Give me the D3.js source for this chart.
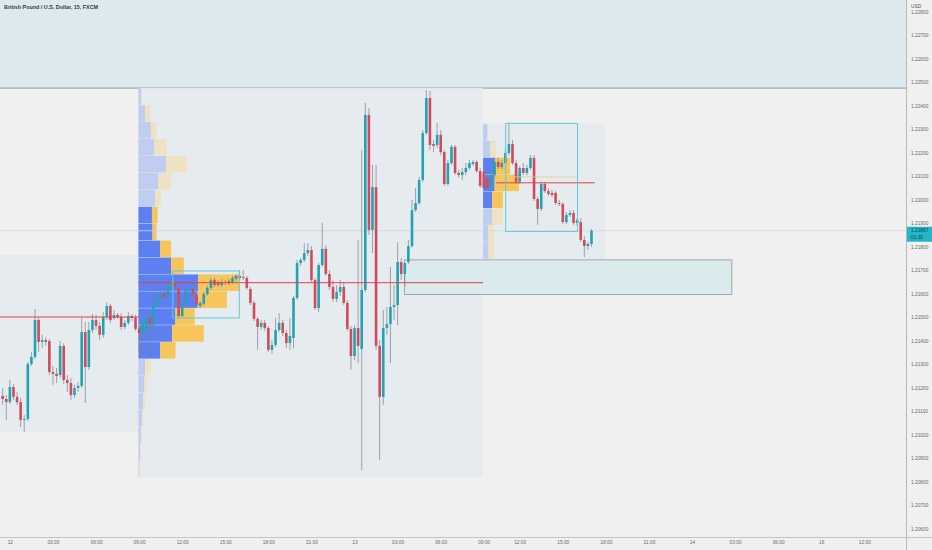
<!DOCTYPE html>
<html><head><meta charset="utf-8">
<script src="https://cdn.jsdelivr.net/npm/d3@7"></script>
<style>body{margin:0;background:#f0f0f0}svg{display:block}</style>
</head><body>
<svg id="c" width="932" height="550"></svg>
<script>
// ---- DATA ----
const title = "British Pound / U.S. Dollar, 15, FXCM";
const currency = "USD";
const opens = [1.21164,1.21151,1.21138,1.21202,1.21160,1.21138,1.21062,1.21066,1.21300,1.21330,
1.21487,1.21394,1.21402,1.21398,1.21266,1.21258,1.21253,1.21377,1.21232,1.21219,
1.21168,1.21198,1.21207,1.21436,1.21287,1.21445,1.21487,1.21462,1.21424,1.21500,
1.21547,1.21496,1.21509,1.21500,1.21458,1.21475,1.21504,1.21496,1.21449,1.21432,
1.21441,1.21496,1.21466,1.21551,1.21585,1.21602,1.21585,1.21632,1.21645,1.21624,
1.21504,1.21560,1.21611,1.21619,1.21594,1.21547,1.21556,1.21598,1.21624,1.21657,
1.21645,1.21636,1.21649,1.21653,1.21649,1.21662,1.21675,1.21670,1.21666,1.21619,
1.21560,1.21492,1.21458,1.21475,1.21453,1.21360,1.21381,1.21445,1.21475,1.21432,
1.21389,1.21411,1.21581,1.21730,1.21743,1.21772,1.21785,1.21657,1.21538,1.21721,
1.21790,1.21683,1.21628,1.21577,1.21607,1.21628,1.21560,1.21449,1.21334,1.21453,
1.21364,1.21615,1.22360,1.21870,1.22053,1.21377,1.21160,1.21453,1.21470,1.21543,
1.21551,1.21734,1.21683,1.21734,1.21802,1.21955,1.21985,1.22083,1.22283,1.22432,
1.22236,1.22232,1.22275,1.22202,1.22066,1.22155,1.22224,1.22113,1.22104,1.22117,
1.22134,1.22151,1.22160,1.22121,1.22117,1.22092,1.22049,1.22104,1.22160,1.22138,
1.22155,1.22198,1.22236,1.22155,1.22075,1.22134,1.22113,1.22134,1.22177,1.22002,
1.21960,1.22066,1.22036,1.22028,1.22028,1.21985,1.21981,1.21904,1.21934,1.21943,
1.21900,1.21904,1.21828,1.21802,1.21811];
const highs = [1.21198,1.21168,1.21232,1.21215,1.21181,1.21156,1.21083,1.21309,1.21351,1.21534,
1.21496,1.21424,1.21415,1.21407,1.21292,1.21283,1.21398,1.21389,1.21253,1.21241,
1.21211,1.21224,1.21496,1.21479,1.21479,1.21513,1.21509,1.21479,1.21521,1.21564,
1.21556,1.21530,1.21517,1.21517,1.21487,1.21521,1.21513,1.21509,1.21462,1.21496,
1.21509,1.21513,1.21572,1.21594,1.21615,1.21615,1.21641,1.21662,1.21657,1.21632,
1.21572,1.21624,1.21628,1.21628,1.21602,1.21568,1.21607,1.21632,1.21666,1.21666,
1.21657,1.21662,1.21657,1.21662,1.21675,1.21683,1.21700,1.21700,1.21675,1.21628,
1.21568,1.21500,1.21487,1.21487,1.21462,1.21402,1.21496,1.21517,1.21487,1.21445,
1.21496,1.21590,1.21743,1.21751,1.21815,1.21815,1.21802,1.21666,1.21730,1.21900,
1.21806,1.21700,1.21657,1.21636,1.21657,1.21649,1.21572,1.21462,1.21466,1.21828,
1.22211,1.22411,1.22389,1.22147,1.22147,1.21402,1.21530,1.21543,1.21713,1.21636,
1.21819,1.21751,1.21700,1.21828,1.21998,1.22049,1.22096,1.22296,1.22466,1.22462,
1.22253,1.22326,1.22296,1.22211,1.22168,1.22232,1.22232,1.22126,1.22134,1.22155,
1.22168,1.22168,1.22168,1.22134,1.22147,1.22117,1.22113,1.22177,1.22177,1.22168,
1.22219,1.22326,1.22253,1.22168,1.22143,1.22155,1.22147,1.22189,1.22189,1.22011,
1.22075,1.22075,1.22049,1.22041,1.22036,1.21998,1.21989,1.21947,1.21955,1.21955,
1.21921,1.21921,1.21845,1.21819,1.21875];
const lows = [1.21126,1.21062,1.21130,1.21147,1.21126,1.21032,1.21011,1.21058,1.21292,1.21321,
1.21351,1.21368,1.21377,1.21253,1.21211,1.21219,1.21241,1.21215,1.21181,1.21147,
1.21156,1.21181,1.21198,1.21134,1.21275,1.21432,1.21445,1.21402,1.21411,1.21487,
1.21475,1.21487,1.21492,1.21445,1.21449,1.21466,1.21483,1.21441,1.21360,1.21330,
1.21424,1.21330,1.21453,1.21543,1.21577,1.21577,1.21577,1.21624,1.21619,1.21496,
1.21496,1.21551,1.21602,1.21585,1.21543,1.21538,1.21547,1.21590,1.21615,1.21628,
1.21628,1.21628,1.21636,1.21636,1.21641,1.21653,1.21657,1.21657,1.21615,1.21551,
1.21483,1.21360,1.21445,1.21441,1.21351,1.21343,1.21372,1.21436,1.21419,1.21368,
1.21360,1.21368,1.21572,1.21717,1.21734,1.21760,1.21649,1.21530,1.21521,1.21713,
1.21675,1.21615,1.21564,1.21564,1.21590,1.21551,1.21441,1.21275,1.21317,1.21304,
1.20849,1.21607,1.21849,1.21772,1.21360,1.20892,1.21126,1.21424,1.21304,1.21487,
1.21466,1.21657,1.21632,1.21726,1.21794,1.21947,1.21977,1.22075,1.22275,1.22211,
1.22202,1.22219,1.22189,1.22058,1.22058,1.22147,1.22104,1.22092,1.22083,1.22104,
1.22126,1.22143,1.22113,1.22049,1.22041,1.22041,1.22041,1.22096,1.22130,1.22130,
1.22147,1.22189,1.22147,1.22066,1.22066,1.22104,1.22104,1.22126,1.21994,1.21892,
1.21951,1.22028,1.22015,1.22011,1.21977,1.21972,1.21896,1.21896,1.21926,1.21892,
1.21887,1.21819,1.21755,1.21785,1.21798];
const closes = [1.21151,1.21138,1.21202,1.21160,1.21138,1.21062,1.21066,1.21300,1.21330,1.21487,
1.21394,1.21402,1.21394,1.21266,1.21258,1.21249,1.21377,1.21232,1.21219,1.21168,
1.21198,1.21207,1.21436,1.21287,1.21445,1.21487,1.21462,1.21424,1.21500,1.21547,
1.21487,1.21509,1.21500,1.21458,1.21475,1.21504,1.21496,1.21449,1.21432,1.21479,
1.21496,1.21466,1.21551,1.21585,1.21602,1.21585,1.21632,1.21645,1.21628,1.21504,
1.21564,1.21615,1.21619,1.21594,1.21551,1.21560,1.21598,1.21624,1.21657,1.21636,
1.21636,1.21649,1.21645,1.21645,1.21666,1.21675,1.21666,1.21666,1.21624,1.21560,
1.21492,1.21458,1.21475,1.21453,1.21360,1.21381,1.21445,1.21475,1.21432,1.21389,
1.21419,1.21581,1.21730,1.21743,1.21772,1.21785,1.21657,1.21538,1.21721,1.21790,
1.21683,1.21628,1.21577,1.21607,1.21628,1.21560,1.21449,1.21334,1.21453,1.21377,
1.21615,1.22360,1.21870,1.22053,1.21377,1.21160,1.21453,1.21470,1.21543,1.21551,
1.21734,1.21683,1.21730,1.21802,1.21955,1.21985,1.22083,1.22283,1.22432,1.22232,
1.22228,1.22275,1.22202,1.22066,1.22155,1.22224,1.22113,1.22104,1.22117,1.22134,
1.22155,1.22160,1.22121,1.22058,1.22049,1.22049,1.22104,1.22160,1.22138,1.22155,
1.22198,1.22236,1.22155,1.22075,1.22134,1.22113,1.22134,1.22177,1.22002,1.21960,
1.22066,1.22036,1.22024,1.22019,1.21985,1.21981,1.21904,1.21934,1.21943,1.21900,
1.21913,1.21828,1.21802,1.21811,1.21867];

// time axis: bar index of each labelled time
const timeTickBars = [2,14,26,38,50,62,74,86,98,110,122,134,144,156,168,180,192,204,216,228,240];
const timeTickLabels = ["12","03:00","06:00","09:00","12:00","15:00","18:00","21:00","13","03:00","06:00","09:00","12:00","15:00","18:00","21:00","14","03:00","06:00","16","12:00"];
const priceTicks = d3.range(1206, 1229).map(v => v / 1000);

// sessions (bar index start/end, price range, point of control)
const sessionStart = [-5, 37.8, 133.8];
const sessionEnd   = [37.8, 133.8, 167.8];
const sessionLow   = [1.21011, 1.20818, 1.21747];
const sessionHigh  = [1.21764, 1.22474, 1.22323];
const pocPrice     = [1.21500, 1.21646, 1.22071];
const pocStart     = [-5, 37.8, 137.5];
const pocEnd       = [37.8, 133.8, 164.9];
const rowSize = 0.00072;

// volume profile rows, bottom to top
const profile1Up   = [10,17,24,34,47,57,67,214,334,367,587,590,324,214,140,134,167,200,274,157,124,67,30];
const profile1Down = [7,7,10,13,20,30,57,153,313,190,290,417,126,110,40,56,57,124,206,123,56,53,5];
const profile1VA = [7, 15];
const profile2Up   = [50,50,83,83,107,107,67,40];
const profile2Down = [50,50,100,100,226,143,50,0];
const profile2VA = [3, 5];

// drawn zones
const upperZone = [1.22474, 1.2300];
const demandZone = {start: 111.9, end: 203.1, low: 1.21596, high: 1.21743};
const rangeBoxes = [
  {start: 47.4, end: 65.9, low: 1.21496, high: 1.21696},
  {start: 140.1, end: 160.1, low: 1.21864, high: 1.22324}
];
const midLine = {start: 140.1, end: 160.1, price: 1.22096};
const lastPrice = 1.21867;
const countdown = "01:30";

// ---- CHART ----
const plotR = 906, plotB = 537;
const svg = d3.select("#c");
const x = d3.scaleLinear().domain([-0.75, 251.6]).range([0, plotR]);
const y = d3.scaleLinear().domain([1.206, 1.228]).range([528.5, 11.5]);
const font = "'Liberation Sans', Arial, sans-serif";

svg.append("rect").attr("width", 932).attr("height", 550).attr("fill", "#f0f0f0");
svg.append("defs").append("clipPath").attr("id", "plot")
  .append("rect").attr("x", 0).attr("y", 0).attr("width", plotR).attr("height", plotB);
const g = svg.append("g").attr("clip-path", "url(#plot)");

// upper zone band
g.append("rect").attr("x", -1).attr("width", plotR + 2)
  .attr("y", y(upperZone[1])).attr("height", y(upperZone[0]) - y(upperZone[1]))
  .attr("fill", "#dce9ee");
g.append("line").attr("x1", 0).attr("x2", plotR)
  .attr("y1", y(upperZone[0])).attr("y2", y(upperZone[0]))
  .attr("stroke", "#8f9ca3").attr("stroke-width", 1);

// session backgrounds
sessionStart.forEach((s, k) => {
  g.append("rect").attr("x", x(s)).attr("width", x(sessionEnd[k]) - x(s))
    .attr("y", y(sessionHigh[k])).attr("height", y(sessionLow[k]) - y(sessionHigh[k]))
    .attr("fill", "#e6ebf0");
});

// demand zone
g.append("rect").attr("x", x(demandZone.start)).attr("width", x(demandZone.end) - x(demandZone.start))
  .attr("y", y(demandZone.high)).attr("height", y(demandZone.low) - y(demandZone.high))
  .attr("fill", "#dbeaec").attr("stroke", "#8e9a9c").attr("stroke-width", 0.8);

// volume profiles
function drawProfile(k, ups, downs, va) {
  const low = sessionLow[k];
  const totals = ups.map((u, i) => u + downs[i]);
  const w = d3.scaleLinear().domain([0, d3.max(totals)])
    .range([0, 0.295 * (x(sessionEnd[k]) - x(sessionStart[k]))]);
  const x0 = x(sessionStart[k]);
  ups.forEach((u, i) => {
    const inVA = i >= va[0] && i <= va[1];
    const yt = y(low + (i + 1) * rowSize), yb = y(low + i * rowSize);
    g.append("rect").attr("x", x0).attr("y", yt + 0.2).attr("width", w(u)).attr("height", yb - yt - 0.4)
      .attr("fill", inVA ? "#5c80f2" : "#c0cdf1");
    g.append("rect").attr("x", x0 + w(u)).attr("y", yt + 0.2).attr("width", w(downs[i])).attr("height", yb - yt - 0.4)
      .attr("fill", inVA ? "#f6c55c" : "#efe2c2");
  });
}
drawProfile(1, profile1Up, profile1Down, profile1VA);
drawProfile(2, profile2Up, profile2Down, profile2VA);

// last price line
g.append("line").attr("x1", 0).attr("x2", plotR).attr("y1", y(lastPrice)).attr("y2", y(lastPrice))
  .attr("stroke", "#cdd6dc").attr("stroke-width", 0.8);

// candles
const bars = opens.map((o, i) => ({i, o, h: highs[i], l: lows[i], c: closes[i]}));
const up = "#22a3b1", down = "#d24a5b";
g.selectAll("line.wick").data(bars).join("line").attr("class", "wick")
  .attr("x1", d => x(d.i)).attr("x2", d => x(d.i))
  .attr("y1", d => y(d.h)).attr("y2", d => y(d.l))
  .attr("stroke", "#7d8185").attr("stroke-width", 0.7);
g.selectAll("rect.body").data(bars).join("rect").attr("class", "body")
  .attr("x", d => x(d.i) - 1.3).attr("width", 2.6)
  .attr("y", d => y(Math.max(d.o, d.c)))
  .attr("height", d => Math.max(0.8, Math.abs(y(d.o) - y(d.c))))
  .attr("fill", d => d.c >= d.o ? up : down);

// POC lines
sessionStart.forEach((s, k) => {
  g.append("line").attr("x1", x(pocStart[k])).attr("x2", x(pocEnd[k]))
    .attr("y1", y(pocPrice[k])).attr("y2", y(pocPrice[k]))
    .attr("stroke", "#e0414c").attr("stroke-width", 1);
});
g.append("line").attr("x1", x(midLine.start)).attr("x2", x(midLine.end))
  .attr("y1", y(midLine.price)).attr("y2", y(midLine.price))
  .attr("stroke", "#f3c58a").attr("stroke-width", 0.8);

// range boxes
rangeBoxes.forEach(b => {
  g.append("rect").attr("x", x(b.start)).attr("width", x(b.end) - x(b.start))
    .attr("y", y(b.high)).attr("height", y(b.low) - y(b.high))
    .attr("fill", "none").attr("stroke", "#5fcbdc").attr("stroke-width", 1);
});

// axes separators
svg.append("line").attr("x1", plotR + 0.5).attr("x2", plotR + 0.5).attr("y1", 0).attr("y2", 550)
  .attr("stroke", "#b9b9b9").attr("stroke-width", 1);
svg.append("line").attr("x1", 0).attr("x2", 932).attr("y1", plotB + 0.5).attr("y2", plotB + 0.5)
  .attr("stroke", "#c4c4c4").attr("stroke-width", 1);

// price axis
const ya = svg.append("g").attr("transform", `translate(${plotR},0)`)
  .call(d3.axisRight(y).tickValues(priceTicks).tickFormat(d3.format(".5f")).tickSize(0).tickPadding(5));
ya.select(".domain").remove();
ya.selectAll("text").attr("font-family", font).attr("font-size", 4.8).attr("fill", "#6a6a6a");

// time axis
const xa = svg.append("g").attr("transform", `translate(0,${plotB})`)
  .call(d3.axisBottom(x).tickValues(timeTickBars).tickFormat((d, i) => timeTickLabels[i]).tickSize(0).tickPadding(4));
xa.select(".domain").remove();
xa.selectAll("text").attr("font-family", font).attr("font-size", 4.8).attr("fill", "#6a6a6a");

// last price label
svg.append("rect").attr("x", plotR + 1).attr("y", y(lastPrice) - 4).attr("width", 932 - plotR).attr("height", 15)
  .attr("fill", "#22b6ca");
svg.append("text").attr("x", plotR + 5).attr("y", y(lastPrice) + 1.7).text(d3.format(".5f")(lastPrice))
  .attr("font-family", font).attr("font-size", 4.8).attr("fill", "#12414c");
svg.append("text").attr("x", plotR + 5).attr("y", y(lastPrice) + 8.5).text(countdown)
  .attr("font-family", font).attr("font-size", 4.8).attr("fill", "#12414c");

// currency + title
svg.append("text").attr("x", plotR + 5).attr("y", 7.5).text(currency)
  .attr("font-family", font).attr("font-size", 4.8).attr("fill", "#555");
svg.append("text").attr("x", 4).attr("y", 8.5).text(title)
  .attr("font-family", font).attr("font-size", 5.4).attr("fill", "#3a3a3a").attr("font-weight", 600);
</script>
</body></html>
